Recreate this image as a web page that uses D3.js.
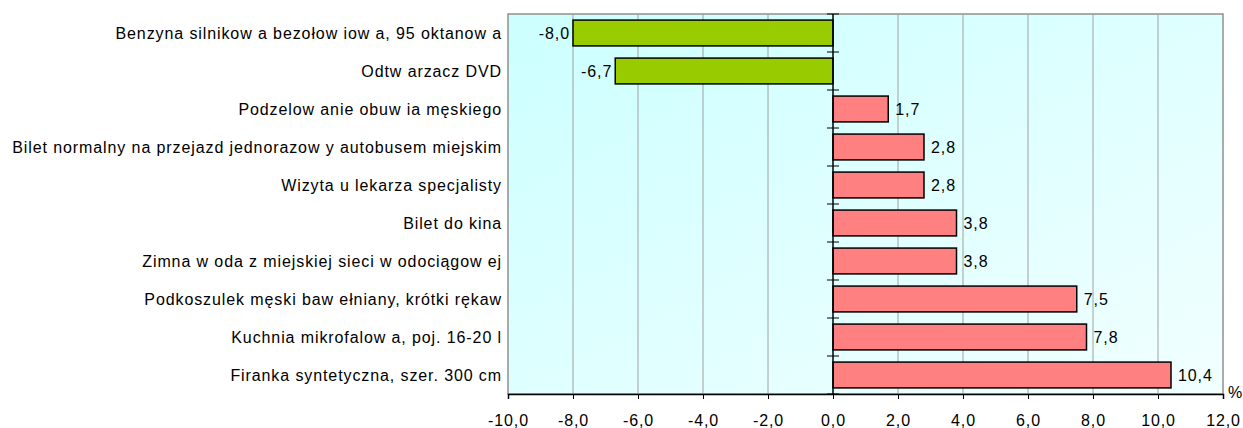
<!DOCTYPE html>
<html>
<head>
<meta charset="utf-8">
<script src="https://cdn.jsdelivr.net/npm/d3@7"></script>
<style>
  body { margin: 0; background: #fff; }
  text { font-family: "Liberation Sans", Arial, sans-serif; fill: #000; font-size: 16px; letter-spacing: 0.9px; }
</style>
</head>
<body>
<script>
// data
const categories = [
  'Benzyna silnikow a bezołow iow a, 95 oktanow a',
  'Odtw arzacz DVD',
  'Podzelow anie obuw ia męskiego',
  'Bilet normalny na przejazd jednorazow y autobusem miejskim',
  'Wizyta u lekarza specjalisty',
  'Bilet do kina',
  'Zimna w oda z miejskiej sieci w odociągow ej',
  'Podkoszulek męski baw ełniany, krótki rękaw ',
  'Kuchnia mikrofalow a, poj. 16-20 l',
  'Firanka syntetyczna, szer. 300 cm'
];
const values = [-8.0, -6.7, 1.7, 2.8, 2.8, 3.8, 3.8, 7.5, 7.8, 10.4];
const tickValues = [-10, -8, -6, -4, -2, 0, 2, 4, 6, 8, 10, 12];

const W = 1243, H = 428;
const plotL = 508, plotR = 1223, plotT = 14, plotB = 394;

const svg = d3.select('body').append('svg')
    .attr('width', W)
    .attr('height', H);

const defs = svg.append('defs');
const grad = defs.append('linearGradient')
    .attr('id', 'bg')
    .attr('x1', '0%').attr('y1', '0%')
    .attr('x2', '100%').attr('y2', '100%');
grad.append('stop').attr('offset', '0%').attr('stop-color', '#ccffff');
grad.append('stop').attr('offset', '100%').attr('stop-color', '#f2ffff');

const x = d3.scaleLinear().domain([-10, 12]).range([plotL, plotR]);
const y = d3.scaleBand().domain(categories).range([plotT, plotB])
    .paddingInner(0.32).paddingOuter(0.16);

const fmt = d => d3.format('.1f')(d).replace('.', ',').replace('−', '-');

// plot area
svg.append('rect')
    .attr('x', plotL).attr('y', plotT)
    .attr('width', plotR - plotL).attr('height', plotB - plotT)
    .attr('fill', 'url(#bg)')
    .attr('stroke', '#909090')
    .attr('stroke-width', 1.5);

// gridlines
svg.selectAll('line.grid')
    .data(tickValues.filter(d => d !== 0 && d !== -10 && d !== 12))
    .enter()
  .append('line')
    .attr('class', 'grid')
    .attr('x1', d => x(d)).attr('x2', d => x(d))
    .attr('y1', plotT).attr('y2', plotB)
    .attr('stroke', '#a0a0a0')
    .attr('stroke-width', 1);

// bottom axis
const xAxis = d3.axisBottom(x)
    .tickValues(tickValues)
    .tickSize(5)
    .tickFormat(fmt);
const gx = svg.append('g')
    .attr('transform', `translate(0,${plotB})`)
    .call(xAxis);
gx.attr('font-size', null).attr('font-family', null);
gx.select('.domain').attr('stroke', '#000').attr('stroke-width', 1.5);
gx.selectAll('.tick line').attr('stroke', '#000');
gx.selectAll('.tick text')
    .attr('y', 32)
    .attr('dy', 0);

svg.append('text')
    .attr('x', 1228).attr('y', 398)
    .style('letter-spacing', '0px')
    .text('%');

// bars
svg.selectAll('rect.bar')
    .data(values)
    .enter()
  .append('rect')
    .attr('class', 'bar')
    .attr('x', d => x(Math.min(0, d)))
    .attr('y', (d, i) => y(categories[i]))
    .attr('width', d => Math.abs(x(d) - x(0)))
    .attr('height', y.bandwidth())
    .attr('fill', d => d < 0 ? '#99cc00' : '#ff8080')
    .attr('stroke', '#000')
    .attr('stroke-width', 1.5);

// zero axis with ticks at band boundaries
svg.append('line')
    .attr('x1', x(0)).attr('x2', x(0))
    .attr('y1', plotT).attr('y2', plotB)
    .attr('stroke', '#000')
    .attr('stroke-width', 1.5);
const step = y.step();
svg.selectAll('line.ytick')
    .data(d3.range(categories.length + 1))
    .enter()
  .append('line')
    .attr('class', 'ytick')
    .attr('x1', x(0) - 6).attr('x2', x(0) + 6)
    .attr('y1', i => plotT + i * step)
    .attr('y2', i => plotT + i * step)
    .attr('stroke', '#000')
    .attr('stroke-width', 1);

// value labels
svg.selectAll('text.val')
    .data(values)
    .enter()
  .append('text')
    .attr('class', 'val')
    .attr('x', d => d < 0 ? x(d) - 3 : x(d) + 7)
    .attr('y', (d, i) => y(categories[i]) + y.bandwidth() / 2)
    .attr('dy', '0.35em')
    .attr('text-anchor', d => d < 0 ? 'end' : 'start')
    .text(fmt);

// category labels
svg.selectAll('text.cat')
    .data(categories)
    .enter()
  .append('text')
    .attr('class', 'cat')
    .attr('x', 502)
    .attr('y', d => y(d) + y.bandwidth() / 2)
    .attr('dy', '0.35em')
    .attr('text-anchor', 'end')
    .text(d => d);
</script>
</body>
</html>
